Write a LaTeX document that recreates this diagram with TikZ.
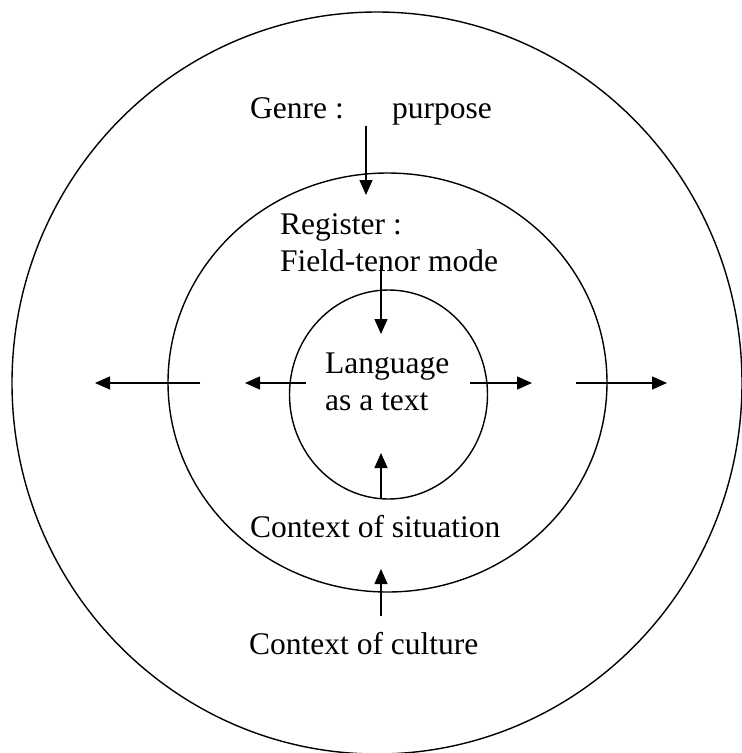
\documentclass[tikz,border=0pt]{standalone}
\usepackage{fontspec}
\setmainfont{Liberation Serif}
\usetikzlibrary{shapes.geometric,arrows.meta}

\begin{document}
\begin{tikzpicture}[x=1pt,y=-1pt,
    ring/.style={draw, ellipse, line width=1.4pt, inner sep=0pt},
    caption/.style={font=\fontsize{31.5}{37}\selectfont, inner sep=0pt, anchor=base west, align=left},
    flow/.style={-{Triangle[length=15pt,width=13pt]}, line width=1.4pt}]
    % Canvas
    \useasboundingbox (0,0) rectangle (742,753);

    % Rings: culture, situation, text
    \node[ring, minimum width=730pt, minimum height=742pt] (outer) at (377,383) {};
    \node[ring, minimum width=439pt, minimum height=419pt] (middle) at (387.5,382.5) {};
    \node[ring, minimum width=198pt, minimum height=209pt] (inner) at (388.5,394.5) {};

    % Labels (base = last line)
    \node[caption] (genre) at (250,118) {Genre :};
    \node[caption] (purpose) at (392,118) {purpose};
    \node[caption] (register) at (280,271) {Register :\\Field-tenor mode};
    \node[caption] (language) at (325,410) {Language\\as a text};
    \node[caption] (situation) at (250,537) {Context of situation};
    \node[caption] (culture) at (249,654) {Context of culture};

    % Vertical arrows
    \coordinate (genre-s) at (366,126);
    \coordinate (genre-e) at (366,195);
    \coordinate (register-s) at (381,265);
    \coordinate (register-e) at (381,334);
    \coordinate (situation-s) at (381,499);
    \coordinate (situation-e) at (381,453);
    \coordinate (culture-s) at (381,616);
    \coordinate (culture-e) at (381,569);
    \foreach \name in {genre, register, situation, culture} {
        \draw[flow] (\name-s) -- (\name-e);
    }

    % Horizontal arrows
    \foreach \name/\from/\to in {ol/200/95, il/306/245, ir/470/532, or/576/667} {
        \coordinate (\name-s) at (\from,383);
        \coordinate (\name-e) at (\to,383);
        \draw[flow] (\name-s) -- (\name-e);
    }
\end{tikzpicture}
\end{document}
